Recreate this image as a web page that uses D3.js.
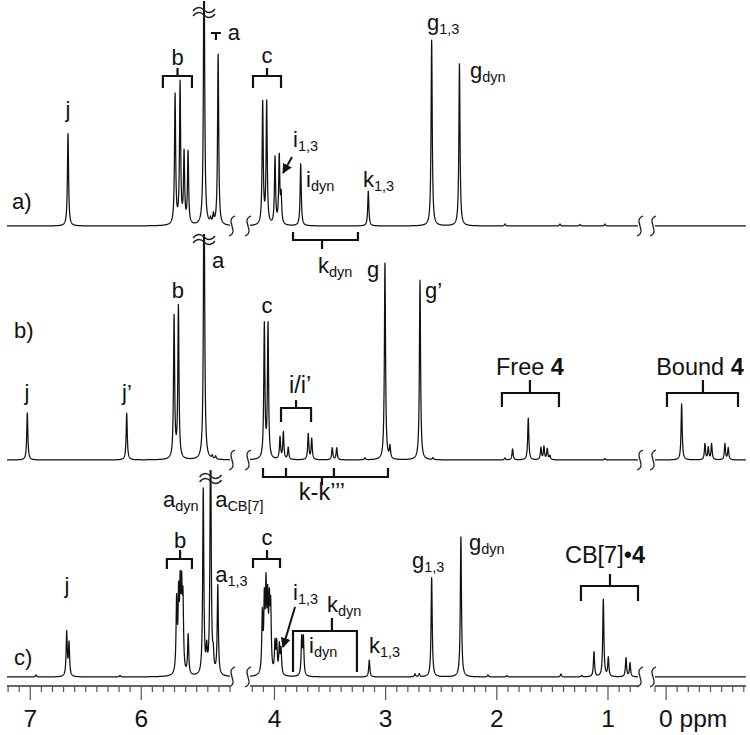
<!DOCTYPE html>
<html><head><meta charset="utf-8">
<script src="https://cdn.jsdelivr.net/npm/d3@7"></script>
<style>
body{margin:0;background:#fff}
svg{display:block}
text{font-family:"Liberation Sans",Arial,Helvetica,sans-serif;fill:#111}
</style>
</head><body>
<svg id="chart" width="750" height="735"></svg>
<script>
// ---- data: peaks as [ppm, intensity] ----
const peaksA = [
  [6.66, 93],
  [5.695, 130], [5.650, 141], [5.614, 70], [5.578, 72],
  [5.434, 300], [5.375, 5], [5.350, 9], [5.307, 172],
  [4.106, 122], [4.070, 122], [3.995, 67], [3.957, 68], [3.940, 28],
  [3.764, 62], [3.156, 35], [2.586, 187], [2.336, 162],
  [1.927, 2], [1.432, 2], [1.252, 1.5], [1.027, 2]
];
const peaksB = [
  [7.027, 47], [6.131, 47],
  [5.704, 142], [5.665, 152],
  [5.434, 320], [5.360, 3], [5.330, 3],
  [4.091, 134], [4.058, 134],
  [3.950, 22], [3.920, 27], [3.876, 12],
  [3.696, 26], [3.665, 21], [3.480, 12], [3.440, 12],
  [3.186, 2], [3.006, 198], [2.961, 12], [2.691, 181], [2.574, 2],
  [1.927, 2], [1.858, 11], [1.717, 42], [1.603, 12], [1.576, 13], [1.546, 11], [1.522, 4],
  [1.028, 1.5],
  [-0.14, 56], [-0.35, 16], [-0.38, 12], [-0.41, 16], [-0.53, 16], [-0.56, 12]
];
const peaksC = [
  [6.949, 2], [6.192, 1.5],
  [6.672, 44], [6.651, 33],
  [5.681, 72], [5.663, 72], [5.649, 76], [5.636, 74], [5.624, 68], [5.577, 40],
  [5.441, 187], [5.410, 22], [5.375, 260], [5.351, 16], [5.310, 90],
  [4.109, 58], [4.091, 68], [4.076, 80], [4.061, 66], [4.046, 62], [4.034, 62],
  [3.995, 30], [3.980, 30], [3.956, 28], [3.941, 25],
  [3.755, 37], [3.740, 37], [3.147, 17],
  [2.736, 3], [2.698, 3], [2.586, 100], [2.323, 141],
  [2.080, 2], [1.910, 1.5], [1.423, 3], [1.237, 1.5],
  [1.126, 25], [1.042, 78], [0.997, 19], [0.838, 19], [0.802, 14]
];
const majorTicks = [7, 6, 4, 3, 2, 1, 0];
const majorTickLabels = ["7", "6", "4", "3", "2", "1", "0 ppm"];

// ---- annotations (ppm, height above baseline) ----
const labelsA = [
  {t:"j", p:6.66, h:109, a:"middle"}, {t:"b", p:5.673, h:161, a:"middle"},
  {t:"a", p:5.22, h:186}, {t:"c", p:4.067, h:163, a:"middle"},
  {t:"i", s:"1,3", p:3.833, h:79}, {t:"i", s:"dyn", p:3.716, h:39},
  {t:"k", s:"1,3", p:3.204, h:39}, {t:"k", s:"dyn", p:3.608, h:-47},
  {t:"g", s:"1,3", p:2.628, h:196}, {t:"g", s:"dyn", p:2.242, h:148},
  {t:"a)", p:7.165, h:17}
];
const bracketsA = [
  {x0:5.805, x1:5.543, hb:150, hl:138, st:5.673, hs:158},
  {x0:4.193, x1:3.941, hb:150, hl:138, st:4.067, hs:158},
  {x0:5.372, x1:5.282, hb:193, hl:193, st:5.327, hs:186},
  {x0:3.833, x1:3.249, hb:-14, hl:-6, st:3.572, hs:-23}
];
const arrowsA = [{p0:3.842, h0:69, p1:3.923, h1:53}];
const breaksA = [{p:5.434, h:[216, 211]}];

const labelsB = [
  {t:"j", p:7.03, h:60, a:"middle"}, {t:"j\u2019", p:6.129, h:60, a:"middle"},
  {t:"b", p:5.67, h:162, a:"middle"}, {t:"a", p:5.363, h:192},
  {t:"b)", p:7.147, h:122}, {t:"c", p:4.067, h:147, a:"middle"},
  {t:"g", p:3.168, h:183}, {t:"g\u2019", p:2.646, h:162},
  {t:"i/i\u2019", p:3.77, h:67, a:"middle", big:true}, {t:"k-k\u2019\u2019\u2019", p:3.573, h:-40, a:"middle", big:true},
  {t:"Free ", b:"4", p:1.702, h:85, a:"middle", big:true}, {t:"Bound ", b:"4", p:-0.305, h:85, a:"middle", big:true}
];
const bracketsB = [
  {x0:3.941, x1:3.671, hb:52, hl:38, st:3.806, hs:60},
  {x0:4.103, x1:2.979, hb:-17, hl:-8, st:3.573, hs:-25, legs:[3.896, 3.465]},
  {x0:1.954, x1:1.441, hb:67, hl:53, st:1.702, hs:80},
  {x0:-0.008, x1:-0.648, hb:67, hl:53, st:-0.332, hs:80}
];
const arrowsB = [];
const breaksB = [{p:5.434, h:[223, 218]}];

const labelsC = [
  {t:"j", p:6.67, h:84, a:"middle"}, {t:"b", p:5.65, h:129, a:"middle"},
  {t:"a", s:"dyn", p:5.805, h:170}, {t:"a", s:"CB[7]", p:5.334, h:170},
  {t:"a", s:"1,3", p:5.334, h:95}, {t:"c)", p:7.147, h:12},
  {t:"c", p:4.067, h:132, a:"middle"}, {t:"i", s:"1,3", p:3.833, h:77},
  {t:"k", s:"dyn", p:3.528, h:65}, {t:"i", s:"dyn", p:3.689, h:24},
  {t:"k", s:"1,3", p:3.150, h:24}, {t:"g", s:"1,3", p:2.763, h:109},
  {t:"g", s:"dyn", p:2.251, h:127}, {t:"CB[7]\u2022", b:"4", p:1.027, h:114, a:"middle", big:true}
];
const bracketsC = [
  {x0:5.769, x1:5.543, hb:118, hl:108, st:5.65, hs:127},
  {x0:4.193, x1:3.950, hb:118, hl:109, st:4.067, hs:127},
  {x0:3.833, x1:3.258, hb:46, hl:5, st:3.483, hs:59},
  {x0:1.243, x1:0.730, hb:91, hl:76, st:0.982, hs:103}
];
const arrowsC = [{p0:3.815, h0:70, p1:3.923, h1:30}];
const breaksC = [{p:5.375, h:[201, 196]}];

// ---- layout ----
const svg = d3.select("#chart");
const x = d3.scaleLinear()
  .domain([7.21, 5.20, 4.22, 0.73, 0.10, -0.72])
  .range([7, 230, 250, 638, 655, 746]);
const segments = [[7.21, 5.20], [4.22, 0.73], [0.10, -0.72]];
const W = 0.006;

const spectra = [
  {peaks:peaksA, base:226, top:1, labels:labelsA, brackets:bracketsA, arrows:arrowsA, breaks:breaksA},
  {peaks:peaksB, base:460, top:234, labels:labelsB, brackets:bracketsB, arrows:arrowsB, breaks:breaksB},
  {peaks:peaksC, base:677, top:470, labels:labelsC, brackets:bracketsC, arrows:arrowsC, breaks:breaksC}
];

const defs = svg.append("defs");
defs.append("marker").attr("id","arr").attr("viewBox","0 0 10 10").attr("refX",9).attr("refY",5)
  .attr("markerWidth",5).attr("markerHeight",5).attr("orient","auto").attr("markerUnits","strokeWidth")
  .append("path").attr("d","M0,0 L10,5 L0,10 z").attr("fill","#111");

function intensity(peaks, p) {
  let s = 0;
  for (const [pp, h] of peaks) { const d = (p - pp) / W; s += h / (1 + d * d); }
  return s;
}
function squiggle(g, cx, y0) {
  g.append("path")
    .attr("d", `M${cx+3},${y0-10} C${cx-8},${y0-6} ${cx+8},${y0+6} ${cx-3},${y0+10}`)
    .attr("fill","none").attr("stroke","#222").attr("stroke-width",1.3);
}

spectra.forEach((S, si) => {
  const y = d3.scaleLinear().domain([0, 100]).range([S.base, S.base - 100]);
  const g = svg.append("g");
  defs.append("clipPath").attr("id","clip"+si).append("rect")
    .attr("x",0).attr("y",S.top).attr("width",750).attr("height",735 - S.top);
  const line = d3.line().x(d => x(d[0])).y(d => y(d[1]));
  const sg = g.append("g").attr("clip-path", `url(#clip${si})`);
  segments.forEach(([p0, p1]) => {
    const pts = [];
    for (let p = p0; p >= p1 - 1e-9; p -= 0.0015) pts.push([p, intensity(S.peaks, p)]);
    sg.append("path").attr("d", line(pts)).attr("fill","none")
      .attr("stroke","#111").attr("stroke-width",1.25).attr("stroke-linejoin","round");
  });
  squiggle(g, x(5.20) + 2, S.base);
  squiggle(g, x(4.22) - 2, S.base);
  squiggle(g, x(0.73) + 2, S.base);
  squiggle(g, x(0.10) - 2, S.base);
  S.breaks.forEach(b => {
    b.h.forEach(hh => {
      const cx = x(b.p), yy = y(hh);
      g.append("path")
        .attr("d", `M${cx-11},${yy+1} C${cx-7},${yy-4} ${cx-3},${yy-3} ${cx},${yy} S${cx+7},${yy+4} ${cx+11},${yy-1}`)
        .attr("fill","none").attr("stroke","#222").attr("stroke-width",1.3);
    });
  });
  S.brackets.forEach(B => {
    let d = `M${x(B.x0)},${y(B.hl)} V${y(B.hb)} H${x(B.x1)} V${y(B.hl)} M${x(B.st)},${y(B.hb)} V${y(B.hs)}`;
    (B.legs || []).forEach(lp => { d += ` M${x(lp)},${y(B.hb)} V${y(B.hl)}`; });
    g.append("path").attr("d", d).attr("fill","none").attr("stroke","#111").attr("stroke-width",2.2);
  });
  S.arrows.forEach(A => {
    g.append("line").attr("x1", x(A.p0)).attr("y1", y(A.h0)).attr("x2", x(A.p1)).attr("y2", y(A.h1))
      .attr("stroke","#111").attr("stroke-width",2).attr("marker-end","url(#arr)");
  });
  S.labels.forEach(L => {
    const t = g.append("text").attr("x", x(L.p)).attr("y", y(L.h))
      .attr("text-anchor", L.a || "start").attr("font-size", L.big ? 23.5 : 22);
    t.append("tspan").text(L.t);
    if (L.s) t.append("tspan").attr("font-size", 14.5).attr("dy", 4).text(L.s);
    if (L.b) t.append("tspan").attr("font-weight", "bold").text(L.b);
  });
});

// ---- axis ----
const axisY = 686;
const ax = svg.append("g");
segments.forEach(([p0, p1]) => {
  ax.append("line").attr("x1", x(p0)).attr("x2", x(p1)).attr("y1", axisY).attr("y2", axisY)
    .attr("stroke","#333").attr("stroke-width",1.3);
  const first = Math.floor(p0 * 10 + 1e-6), last = Math.ceil(p1 * 10 - 1e-6);
  for (let k = first; k >= last; k--) {
    const p = k / 10;
    const major = k % 10 === 0;
    ax.append("line").attr("x1", x(p)).attr("x2", x(p)).attr("y1", axisY).attr("y2", axisY + (major ? 14 : 6))
      .attr("stroke","#555").attr("stroke-width",1.2);
  }
});
majorTicks.forEach((p, i) => {
  const isLast = i === majorTicks.length - 1;
  ax.append("text").attr("x", isLast ? x(p) - 7 : x(p)).attr("y", 727)
    .attr("text-anchor", isLast ? "start" : "middle").attr("font-size", 24.5).text(majorTickLabels[i]);
});
</script>
</body></html>
